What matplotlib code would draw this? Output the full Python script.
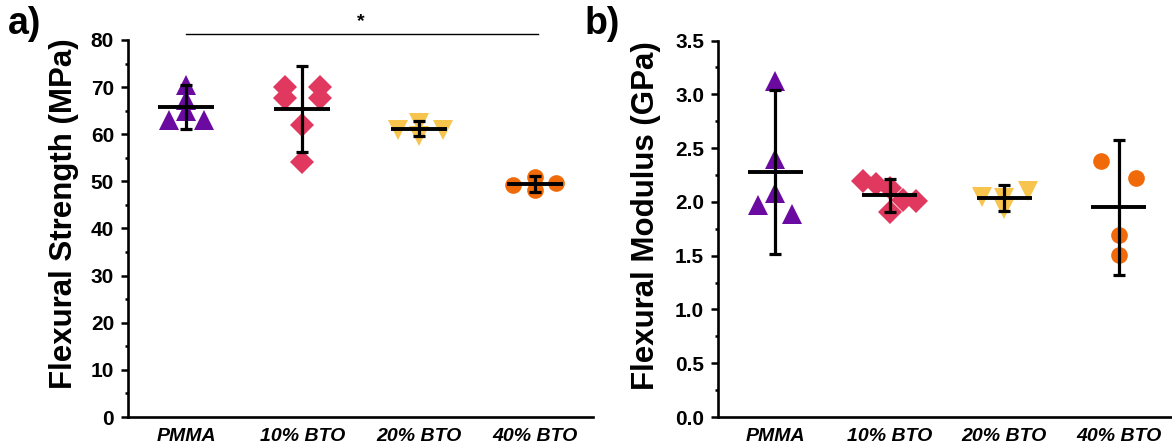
import matplotlib
matplotlib.use("Agg")
import matplotlib.pyplot as plt
from matplotlib.ticker import MultipleLocator

plt.rcParams["font.family"] = ["Liberation Sans", "DejaVu Sans"]

# Categories and styles
groups = ["PMMA", "10% BTO", "20% BTO", "40% BTO"]
colors = ["#6A0AA0", "#E0385F", "#F7C54E", "#F06A0A"]
markers = ["^", "D", "v", "o"]
marker_sizes = [15, 12, 15, 12]

# Flexural strength (MPa): individual specimens, jitter offsets, mean, SD
strength_pts = [
    [70.5, 67.3, 65.0, 63.0, 63.0],
    [70.1, 70.1, 67.6, 67.6, 62.0, 54.2],
    [60.8, 62.4, 59.6, 60.8],
    [49.3, 51.0, 48.2, 49.7],
]
strength_jit = [
    [0, 0, 0, -0.15, 0.15],
    [-0.15, 0.15, -0.15, 0.15, 0, 0],
    [-0.18, 0, 0, 0.21],
    [-0.185, 0, 0, 0.185],
]
strength_mean = [65.8, 65.3, 61.2, 49.5]
strength_sd = [4.6, 9.15, 1.6, 1.7]

# Flexural modulus (GPa)
modulus_pts = [
    [3.12, 2.40, 2.08, 1.97, 1.89],
    [2.19, 2.17, 2.13, 1.91, 2.02, 2.01],
    [2.05, 2.04, 1.93, 2.10],
    [2.38, 2.22, 1.69, 1.51],
]
modulus_jit = [
    [0, 0, 0, -0.15, 0.15],
    [-0.23, -0.12, 0, 0, 0.12, 0.23],
    [-0.195, 0, 0, 0.21],
    [-0.155, 0.15, 0, 0],
]
modulus_mean = [2.28, 2.06, 2.04, 1.95]
modulus_sd = [0.76, 0.155, 0.12, 0.625]


def draw_panel(ax, pts, jit, means, sds, ylim, major, minor, fmt):
    for i in range(len(groups)):
        xs = [i + j for j in jit[i]]
        ax.plot(xs, pts[i], linestyle="none", marker=markers[i],
                ms=marker_sizes[i], color=colors[i], mew=0, zorder=2)
        ax.errorbar(i, means[i], yerr=sds[i], fmt="none", ecolor="black",
                    elinewidth=2.3, capsize=4.5, capthick=2.3, zorder=3)
        ax.hlines(means[i], i - 0.24, i + 0.24, color="black", lw=2.8, zorder=3)

    ax.set_xlim(-0.5, 3.5)
    ax.set_ylim(*ylim)
    ax.set_xticks(range(len(groups)))
    ax.set_xticklabels(groups, fontsize=14, fontweight="bold", style="italic")
    ax.yaxis.set_major_locator(MultipleLocator(major))
    ax.yaxis.set_minor_locator(MultipleLocator(minor))
    ax.yaxis.set_major_formatter(fmt)
    for lab in ax.get_yticklabels():
        lab.set_fontsize(15)
        lab.set_fontweight("bold")
    ax.tick_params(axis="x", length=0, pad=8)
    ax.tick_params(axis="y", which="major", length=5, width=1.8, pad=5)
    ax.tick_params(axis="y", which="minor", length=2.5, width=1.8)
    for side in ["top", "right"]:
        ax.spines[side].set_visible(False)
    for side in ["left", "bottom"]:
        ax.spines[side].set_linewidth(1.9)


fig = plt.figure(figsize=(11.72, 4.44), dpi=100)
ax1 = fig.add_axes([128 / 1172, 27 / 444, 465 / 1172, 377 / 444])
ax2 = fig.add_axes([718 / 1172, 27 / 444, 458 / 1172, 376.4 / 444])

draw_panel(ax1, strength_pts, strength_jit, strength_mean, strength_sd,
           (0, 80), 10, 5, "{x:.0f}")
draw_panel(ax2, modulus_pts, modulus_jit, modulus_mean, modulus_sd,
           (0, 3.5), 0.5, 0.25, "{x:.1f}")

ax1.set_ylabel("Flexural Strength (MPa)", fontsize=22.5, fontweight="bold")
ax1.yaxis.set_label_coords(-0.105, 0.54)
ax2.set_ylabel("Flexural Modulus (GPa)", fontsize=22.5, fontweight="bold")
ax2.yaxis.set_label_coords(-0.124, 0.535)

# significance bar PMMA vs 40% BTO
ax1.plot([0, 3.03], [81.3, 81.3], color="black", lw=1.0, clip_on=False)
ax1.text(1.5, 82.0, "*", ha="center", va="bottom", fontsize=14,
         fontweight="bold")

fig.text(8 / 1172, 1 - 6 / 444, "a)", fontsize=27, fontweight="bold",
         ha="left", va="top")
fig.text(585 / 1172, 1 - 6 / 444, "b)", fontsize=27, fontweight="bold",
         ha="left", va="top")

fig.savefig("out.png", dpi=100)
